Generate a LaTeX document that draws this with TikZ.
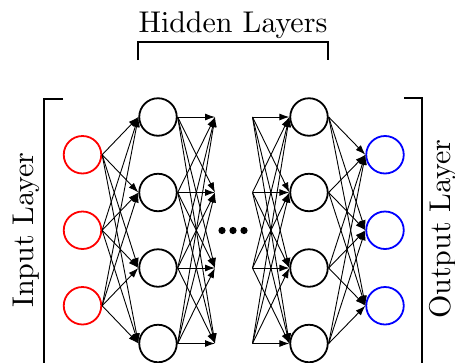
\documentclass[tikz,border=0pt]{standalone}
\usetikzlibrary{arrows.meta}
\font\lblfont=cmr10 at 30pt
\begin{document}
\begin{tikzpicture}[x=1pt,y=-1pt,
  neuron/.style={circle,draw,line width=1.8pt,minimum size=37.5pt,inner sep=0pt},
  conn/.style={line width=0.9pt,-{Latex[length=10pt,width=7pt]}},
  bracket/.style={line width=1.8pt},
  lbl/.style={font=\lblfont,inner sep=0pt}]
\useasboundingbox (0,0) rectangle (455,362);
\clip (0,0) rectangle (455,362);
% nodes
\foreach \i in {1,2,3} {
  \node[neuron,draw=red] (I\i) at (82.5,{154.75+75.5*(\i-1)}) {};
  \node[neuron,draw=blue] (O\i) at (385,{154.75+75.5*(\i-1)}) {};
}
\foreach \j in {1,...,4} {
  \node[neuron] (H\j) at (158,{117+75.5*(\j-1)}) {};
  \node[neuron] (G\j) at (309,{117+75.5*(\j-1)}) {};
  \coordinate (A\j) at (215,{117+75.5*(\j-1)});
  \coordinate (B\j) at (252.5,{117+75.5*(\j-1)});
}
% connections
\foreach \i in {1,2,3} \foreach \j in {1,...,4} \draw[conn] (I\i.east) -- (H\j.west);
\foreach \i in {1,...,4} \foreach \j in {1,...,4} \draw[conn] (H\i.east) -- (A\j);
\foreach \i in {1,...,4} \foreach \j in {1,...,4} \draw[conn] (B\i) -- (G\j.west);
\foreach \i in {1,...,4} \foreach \j in {1,2,3} \draw[conn] (G\i.east) -- (O\j.west);
% dots
\fill (222,230.5) circle (3.6pt);
\fill (233,230.5) circle (3.6pt);
\fill (244,230.5) circle (3.6pt);
% brackets
\draw[bracket] (63,99) -- (44,99) -- (44,370);
\draw[bracket] (404,98) -- (422,98) -- (422,370);
\draw[bracket] (138,60) -- (138,42) -- (328,42) -- (328,60);
% labels
\node[lbl,anchor=base] (hl) at (233,32) {Hidden Layers};
\node[lbl,rotate=90,anchor=base] (il) at (33,230) {Input Layer};
\node[lbl,rotate=90,anchor=base] (ol) at (450,229) {Output Layer};
\end{tikzpicture}
\end{document}
